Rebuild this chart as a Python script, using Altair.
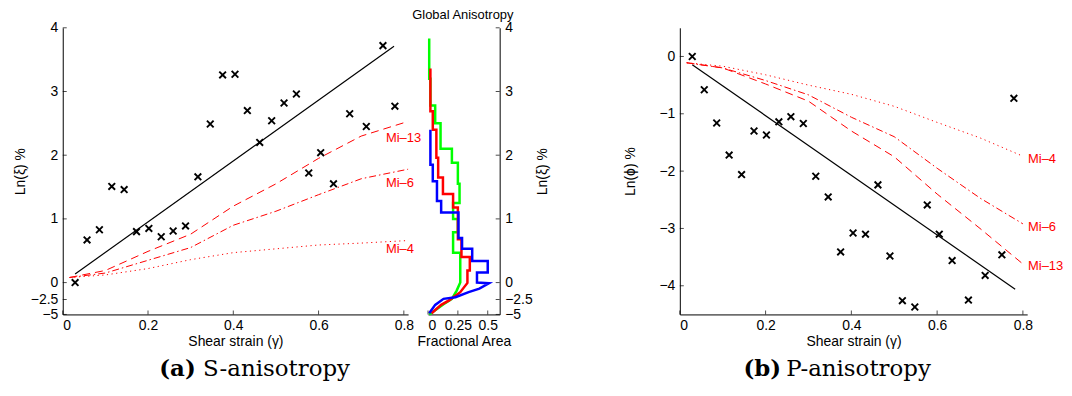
import altair as alt
import pandas as pd

# ---------------- data ----------------
strain = [0.029, 0.057, 0.086, 0.115, 0.144, 0.173, 0.202, 0.231, 0.259, 0.288,
          0.317, 0.346, 0.375, 0.404, 0.433, 0.462, 0.490, 0.519, 0.548, 0.577,
          0.605, 0.635, 0.673, 0.712, 0.751, 0.779]
s_aniso = [0.0, 0.67, 0.83, 1.51, 1.46, 0.80, 0.85, 0.72, 0.81, 0.89,
           1.66, 2.49, 3.26, 3.27, 2.70, 2.20, 2.54, 2.82, 2.96, 1.72,
           2.04, 1.55, 2.65, 2.45, 3.72, 2.77]
p_aniso = [0.0, -0.58, -1.16, -1.72, -2.06, -1.30, -1.37, -1.14, -1.05, -1.17,
           -2.09, -2.45, -3.41, -3.08, -3.10, -2.24, -3.48, -4.26, -4.37, -2.59,
           -3.10, -3.56, -4.25, -3.82, -3.46, -0.73]

s_fit_x = [0.029, 0.777]
s_fit_y = [0.135, 3.71]
p_fit_x = [0.029, 0.782]
p_fit_y = [-0.144, -4.06]

s_curve_x = [0.016, 0.1, 0.2, 0.3, 0.4, 0.5, 0.6, 0.7, 0.81]
s_mi13 = [0.08, 0.19, 0.49, 0.76, 1.20, 1.55, 1.95, 2.30, 2.53]
s_mi6 = [0.08, 0.15, 0.35, 0.55, 0.90, 1.12, 1.38, 1.63, 1.78]
s_mi4 = [0.08, 0.12, 0.22, 0.36, 0.47, 0.53, 0.59, 0.62, 0.66]

p_curve_x = [0.016, 0.1, 0.2, 0.3, 0.4, 0.5, 0.6, 0.7, 0.8]
p_mi4 = [-0.11, -0.17, -0.32, -0.50, -0.66, -0.87, -1.15, -1.42, -1.74]
p_mi6 = [-0.11, -0.20, -0.42, -0.67, -1.06, -1.40, -1.95, -2.47, -2.92]
p_mi13 = [-0.11, -0.20, -0.48, -0.78, -1.30, -1.75, -2.40, -3.00, -3.62]

mi_names = ["Mi\u201313", "Mi\u20136", "Mi\u20134"]
s_label_x = [0.758, 0.758, 0.758]
s_label_y = [2.27, 1.56, 0.52]
p_label_x = [0.812, 0.812, 0.812]
p_label_y = [-1.79, -2.98, -3.66]
p_label_names = ["Mi\u20134", "Mi\u20136", "Mi\u201313"]

# global anisotropy histograms (bin edges top->bottom, fractional area)
green_edges = [3.83, 3.2, 2.78, 2.5, 2.1, 1.88, 1.55, 1.25, 1.0, 0.79, 0.47, 0.0]
green_frac = [0.01, 0.02, 0.06, 0.105, 0.20, 0.25, 0.264, 0.21, 0.25, 0.21, 0.27]
green_tail_f = [0.24, 0.20, 0.13, 0.04, 0.01]
green_tail_y = [-1.18, -2.4, -3.3, -4.6, -5.0]

red_edges = [3.36, 2.69, 2.4, 1.96, 1.65, 1.39, 1.18, 0.68, 0.40, 0.19, -0.05]
red_frac = [0.02, 0.04, 0.07, 0.085, 0.125, 0.21, 0.25, 0.28, 0.35, 0.33]
red_tail_f = [0.27, 0.18, 0.11, 0.03]
red_tail_y = [-1.42, -2.6, -3.4, -4.8]

blue_edges = [2.40, 1.85, 1.59, 1.28, 1.10, 0.70, 0.53, 0.34, 0.16, 0.0]
blue_frac = [0.02, 0.04, 0.075, 0.11, 0.255, 0.285, 0.37, 0.50, 0.41]
blue_tail_f = [0.51, 0.43, 0.34, 0.23, 0.13, 0.06, 0.01]
blue_tail_y = [-0.1, -0.9, -1.4, -2.16, -2.4, -3.4, -4.8]

x_ticks = [0, 0.2, 0.4, 0.6, 0.8]
s_y_ticks = [-5, -2.5, 0, 1, 2, 3, 4]
frac_ticks = [0, 0.25, 0.5]
p_y_ticks = [-4, -3, -2, -1, 0]

hist_title = ["Global Anisotropy"]
cap_a = ["(a)", "S-anisotropy"]
cap_b = ["(b)", "P-anisotropy"]

# ---------------- helpers ----------------
FONT = "Liberation Sans"
SERIF = "DejaVu Serif"
RED = "#ff0000"
XPATH = "M-1,-1L1,1M-1,1L1,-1"
LBL = "format(datum.value, '.2~f')"

W1, H = 347, 288
W2 = 72
W3 = 349

sx = alt.Scale(domain=[0, 0.81], nice=False, zero=False)
sy1 = alt.Scale(domain=[-5, -2.5, 0, 4], range=[H, 273, 256, 0], nice=False, zero=False)
sx2 = alt.Scale(domain=[0, 0.6], nice=False, zero=False)
sy3 = alt.Scale(domain=[-4.5, 0.5], nice=False, zero=False)


class Panel:
    def __init__(self, xs, ys, xa, ya):
        self.xs, self.ys, self.xa, self.ya = xs, ys, xa, ya

    def X(self):
        return alt.X("x:Q", scale=self.xs, axis=self.xa)

    def Y(self):
        return alt.Y("y:Q", scale=self.ys, axis=self.ya)

    def line(self, xv, yv, color, width=1.0, dash=None):
        df = pd.DataFrame({"x": xv, "y": yv, "o": list(range(len(xv)))})
        kw = dict(color=color, strokeWidth=width, clip=False)
        if dash:
            kw["strokeDash"] = dash
        return alt.Chart(df).mark_line(**kw).encode(x=self.X(), y=self.Y(), order="o:Q")

    def points(self, xv, yv):
        df = pd.DataFrame({"x": xv, "y": yv})
        return alt.Chart(df).mark_point(shape=XPATH, size=45, strokeWidth=1.9, color="black",
                                        filled=False, opacity=1).encode(x=self.X(), y=self.Y())

    def labels(self, xv, yv, names):
        df = pd.DataFrame({"x": xv, "y": yv, "t": names})
        return alt.Chart(df).mark_text(font=FONT, fontSize=13, color=RED, align="left",
                                       baseline="middle").encode(x=self.X(), y=self.Y(), text="t:N")

    def ticks(self, xvals, yvals, ytick_x, xtick_y):
        ty = alt.Chart(pd.DataFrame({"y": yvals})).mark_tick(
            orient="horizontal", size=4, thickness=1, color="black").encode(
            y=self.Y(), x=alt.value(ytick_x))
        tx = alt.Chart(pd.DataFrame({"x": xvals})).mark_tick(
            orient="vertical", size=4, thickness=1, color="black").encode(
            x=self.X(), y=alt.value(xtick_y))
        return [ty, tx]


CAP_Y = H + 62


def text_layer(txt, x, y, size, font=FONT, weight="normal", align="left", baseline="alphabetic"):
    return alt.Chart(pd.DataFrame({"t": txt})).mark_text(
        font=font, fontSize=size, fontWeight=weight, align=align, baseline=baseline, color="black"
    ).encode(text="t:N", x=alt.value(x), y=alt.value(y))


def caption(parts, x_bold, x_reg):
    return [text_layer([parts[0]], x_bold, CAP_Y, 23, SERIF, "bold"),
            text_layer([parts[1]], x_reg, CAP_Y, 23, SERIF)]


def xaxis(vals, title):
    return alt.Axis(values=vals, labelExpr=LBL, title=title, ticks=False,
                    labelPadding=4, titlePadding=2, grid=False)


# ---------------- panel (a) ----------------
ax1y = alt.Axis(values=s_y_ticks, labelExpr=LBL, title="Ln(\u03be) %", ticks=False,
                labelPadding=5, titlePadding=3, grid=False)
A = Panel(sx, sy1, xaxis(x_ticks, "Shear strain (\u03b3)"), ax1y)

p1 = alt.layer(
    A.points(strain, s_aniso),
    A.line(s_fit_x, s_fit_y, "black", 1.2),
    A.line(s_curve_x, s_mi13, RED, 1.0, [8, 5]),
    A.line(s_curve_x, s_mi6, RED, 1.0, [7, 3, 1.5, 3]),
    A.line(s_curve_x, s_mi4, RED, 1.0, [1.2, 3.5]),
    A.labels(s_label_x, s_label_y, mi_names),
    *A.ticks(x_ticks, s_y_ticks, 2, H - 2),
    *caption(cap_a, 97, 141),
).properties(width=W1, height=H)

# ---------------- panel global anisotropy ----------------
def hist_df(edges, frac, tail_f, tail_y):
    fs, ys = [], []
    for i, f in enumerate(frac):
        fs += [f, f]
        ys += [edges[i], edges[i + 1]]
    fs += tail_f
    ys += tail_y
    return fs, ys


ax2y = alt.Axis(values=s_y_ticks, labelExpr=LBL, title="Ln(\u03be) %", ticks=False, orient="right",
                labelPadding=5, titlePadding=3, titleAngle=270, titleBaseline="top", grid=False)
G = Panel(sx2, sy1, xaxis(frac_ticks, "Fractional Area"), ax2y)

hist_layers = []
for edges, frac, tf, ty, col in [
    (green_edges, green_frac, green_tail_f, green_tail_y, "#00ff00"),
    (red_edges, red_frac, red_tail_f, red_tail_y, "#ff0000"),
    (blue_edges, blue_frac, blue_tail_f, blue_tail_y, "#0000ff"),
]:
    fs, ys = hist_df(edges, frac, tf, ty)
    hist_layers.append(G.line(fs, ys, col, 2.5))

p2 = alt.layer(
    *hist_layers,
    *G.ticks(frac_ticks, s_y_ticks, W2 - 2, H - 2),
    text_layer(hist_title, W2 / 2 - 1, -13, 13, align="center", baseline="middle"),
).properties(width=W2, height=H)

# ---------------- spacer ----------------
spacer = alt.Chart(pd.DataFrame({"x": [0]})).mark_point(opacity=0).encode(
    x=alt.X("x:Q", axis=None), y=alt.Y("x:Q", axis=None)).properties(width=141, height=H)

# ---------------- panel (b) ----------------
ax3y = alt.Axis(values=p_y_ticks, labelExpr=LBL, title="Ln(\u03d5) %", ticks=False,
                labelPadding=5, titlePadding=22, grid=False)
B = Panel(sx, sy3, xaxis(x_ticks, "Shear strain (\u03b3)"), ax3y)

p3 = alt.layer(
    B.points(strain, p_aniso),
    B.line(p_fit_x, p_fit_y, "black", 1.2),
    B.line(p_curve_x, p_mi13, RED, 1.0, [8, 5]),
    B.line(p_curve_x, p_mi6, RED, 1.0, [7, 3, 1.5, 3]),
    B.line(p_curve_x, p_mi4, RED, 1.0, [1.2, 3.5]),
    B.labels(p_label_x, p_label_y, p_label_names),
    *B.ticks(x_ticks, p_y_ticks, 2, H - 2),
    *caption(cap_b, 64, 107),
).properties(width=W3, height=H)

chart = alt.hconcat(p1, p2, spacer, p3, spacing=20, bounds="flush").configure_view(
    stroke=None
).configure_axis(
    domainColor="black", domainWidth=1, labelFont=FONT, titleFont=FONT, labelFontSize=14,
    titleFontSize=14, titleFontWeight="normal", labelColor="black", titleColor="black"
).properties(padding={"left": 5, "top": 0, "right": 0, "bottom": 0}, background="white")

chart.save("out.html", embed_options={"renderer": "svg", "actions": False})
